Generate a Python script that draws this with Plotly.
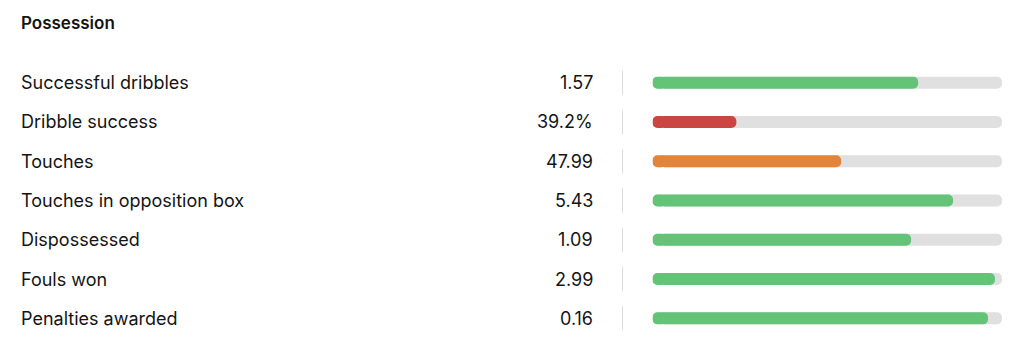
import plotly.graph_objects as go

title = "Possession"
labels = ["Successful dribbles", "Dribble success", "Touches", "Touches in opposition box",
          "Dispossessed", "Fouls won", "Penalties awarded"]
values = ["1.57", "39.2%", "47.99", "5.43", "1.09", "2.99", "0.16"]
percentiles = [76, 24, 54, 86, 74, 98, 96]
bar_colors = ["#63c478", "#cc4641", "#e2853b", "#63c478", "#63c478", "#63c478", "#63c478"]
track_max = 100

W, H = 1024, 355
rows = list(range(len(labels)))
FONT = "Inter"
TXT = "#141414"
BW = 0.305
MT, MB = 62.8, 16.8
CAP = 4.0  # length (axis units) of the rounded left cap piece


def pill(fig, vals, colors):
    # main piece: from half the cap to the value, rounded at the right end
    fig.add_trace(go.Bar(
        x=[v - CAP / 2 for v in vals], y=rows, orientation="h", width=BW,
        base=[CAP / 2] * len(vals),
        marker=dict(color=colors, cornerradius=6, line=dict(width=0)),
        hoverinfo="skip", showlegend=False,
    ))
    # left cap: drawn leftwards to 0, rounded at the left end
    fig.add_trace(go.Bar(
        x=[-CAP] * len(vals), y=rows, orientation="h", width=BW,
        base=[CAP] * len(vals),
        marker=dict(color=colors, cornerradius=6, line=dict(width=0)),
        hoverinfo="skip", showlegend=False,
    ))


fig = go.Figure()
pill(fig, [track_max] * len(rows), ["#e0e0e0"] * len(rows))
pill(fig, percentiles, bar_colors)

plot_h = H - MT - MB
annotations = [dict(
    text=title, x=19 / W, y=(H - MB - 23) / plot_h, xref="paper", yref="paper",
    xanchor="left", yanchor="middle", showarrow=False,
    font=dict(family=FONT, size=17, color=TXT, weight=600),
)]
shapes = []
for i, (lab, val) in enumerate(zip(labels, values)):
    annotations.append(dict(
        text=lab, x=19 / W, y=i, xref="paper", yref="y", xanchor="left", yanchor="middle",
        showarrow=False, font=dict(family=FONT, size=18, color=TXT),
    ))
    annotations.append(dict(
        text=val, x=595 / W, y=i, xref="paper", yref="y", xanchor="right", yanchor="middle",
        showarrow=False, font=dict(family=FONT, size=18, color=TXT),
    ))
    shapes.append(dict(
        type="line", xref="paper", yref="y", x0=622.5 / W, x1=622.5 / W,
        y0=i - 0.31, y1=i + 0.31, line=dict(color="#dddddd", width=1),
    ))

fig.update_layout(
    width=W, height=H, barmode="overlay",
    margin=dict(l=0, r=0, t=MT, b=MB),
    paper_bgcolor="#ffffff", plot_bgcolor="#ffffff",
    xaxis=dict(domain=[652.5 / W, 1002 / W], range=[0, track_max], visible=False, fixedrange=True),
    yaxis=dict(range=[6.5, -0.5], visible=False, fixedrange=True),
    annotations=annotations, shapes=shapes, showlegend=False,
)
fig.write_html("out.html", config={"displayModeBar": False})
